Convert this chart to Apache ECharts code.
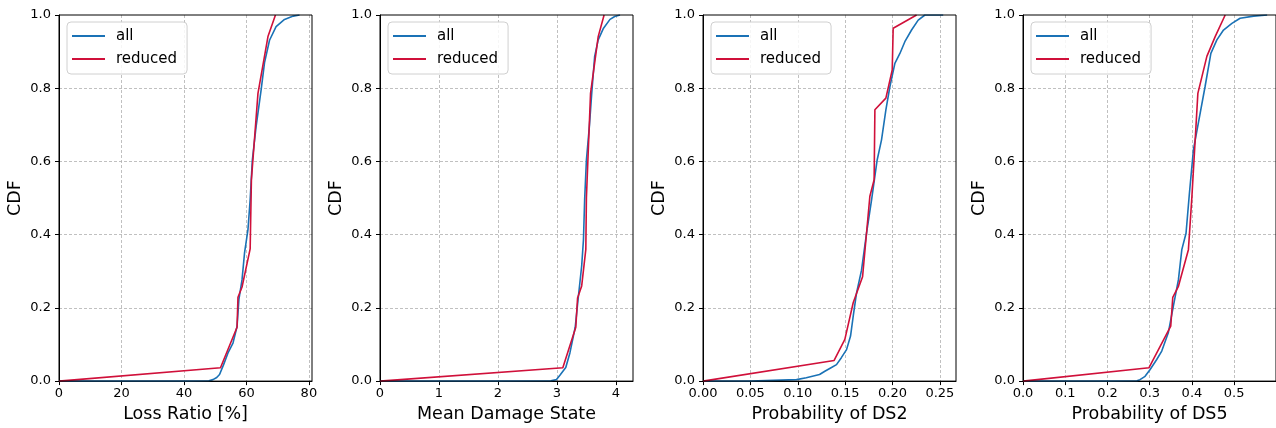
<!DOCTYPE html>
<html><head><meta charset="utf-8">
<script src="https://cdn.jsdelivr.net/npm/echarts@6/dist/echarts.min.js"></script>
<style>html,body{margin:0;padding:0;background:#fff}#c{width:1276px;height:428px}</style>
</head><body><div id="c"></div>
<script>
// Panel 1: Loss Ratio [%]
const lossAllX = [0, 20, 40, 48, 49.3, 50.5, 51.4, 52.7, 54.1, 55.7, 57.0, 57.6, 58.6, 59.4, 60.5, 61.2, 61.9, 63.1, 64.7, 65.8, 67.4, 69.5, 72.2, 75, 77.0];
const lossAllY = [0, 0, 0, 0.001, 0.004, 0.01, 0.018, 0.045, 0.077, 0.104, 0.149, 0.223, 0.277, 0.35, 0.414, 0.495, 0.604, 0.695, 0.795, 0.87, 0.931, 0.968, 0.988, 0.997, 1.0];
const lossRedX = [0, 51.7, 57.0, 57.3, 58.6, 61.2, 61.6, 63.7, 66.9, 69.3];
const lossRedY = [0, 0.0366, 0.147, 0.229, 0.257, 0.361, 0.55, 0.786, 0.941, 1.0];

// Panel 2: Mean Damage State
const mdsAllX = [0, 1, 2, 2.9, 2.99, 3.06, 3.15, 3.22, 3.31, 3.36, 3.42, 3.45, 3.47, 3.50, 3.55, 3.59, 3.64, 3.70, 3.79, 3.90, 3.98, 4.07];
const mdsAllY = [0, 0, 0, 0.001, 0.004, 0.018, 0.037, 0.077, 0.147, 0.225, 0.315, 0.386, 0.495, 0.604, 0.695, 0.786, 0.887, 0.932, 0.964, 0.988, 0.996, 1.0];
const mdsRedX = [0, 3.10, 3.32, 3.35, 3.42, 3.49, 3.50, 3.57, 3.70, 3.80];
const mdsRedY = [0, 0.0366, 0.147, 0.227, 0.26, 0.36, 0.5, 0.786, 0.941, 1.0];

// Panel 3: Probability of DS2
const ds2AllX = [0, 0.05, 0.0987, 0.109, 0.123, 0.1286, 0.1356, 0.1409, 0.146, 0.1515, 0.1557, 0.1585, 0.162, 0.1673, 0.1726, 0.1779, 0.1838, 0.1884, 0.193, 0.1972, 0.2025, 0.2078, 0.213, 0.2201, 0.2271, 0.2342, 0.2535];
const ds2AllY = [0, 0, 0.004, 0.009, 0.018, 0.027, 0.037, 0.045, 0.064, 0.086, 0.123, 0.177, 0.24, 0.303, 0.404, 0.495, 0.604, 0.659, 0.741, 0.804, 0.868, 0.895, 0.927, 0.959, 0.986, 1.0, 1.0];
const ds2RedX = [0, 0.1384, 0.1497, 0.1585, 0.1684, 0.1761, 0.1806, 0.1814, 0.193, 0.1997, 0.2007, 0.2254];
const ds2RedY = [0, 0.0564, 0.114, 0.214, 0.285, 0.505, 0.55, 0.741, 0.773, 0.85, 0.964, 1.0];

// Panel 4: Probability of DS5
const ds5AllX = [0, 0.1, 0.2, 0.27, 0.277, 0.289, 0.3006, 0.3166, 0.3285, 0.344, 0.356, 0.368, 0.376, 0.386, 0.394, 0.4035, 0.415, 0.431, 0.4448, 0.459, 0.4747, 0.4946, 0.514, 0.546, 0.578];
const ds5AllY = [0, 0, 0, 0.001, 0.004, 0.013, 0.031, 0.059, 0.082, 0.132, 0.205, 0.277, 0.359, 0.404, 0.513, 0.632, 0.704, 0.804, 0.895, 0.932, 0.959, 0.977, 0.991, 0.997, 1.0];
const ds5RedX = [0, 0.2984, 0.3498, 0.3546, 0.368, 0.3916, 0.3997, 0.414, 0.4353, 0.455, 0.4787];
const ds5RedY = [0, 0.0366, 0.15, 0.229, 0.259, 0.359, 0.5, 0.786, 0.887, 0.941, 1.0];

const xNames = ['Loss Ratio [%]', 'Mean Damage State', 'Probability of DS2', 'Probability of DS5'];
const xMax = [81, 4.29, 0.267, 0.599];
const xInterval = [20, 1, 0.05, 0.1];
const xDecimals = [0, 0, 2, 1];
const yTicks = [0, 0.2, 0.4, 0.6, 0.8, 1.0];
const seriesNames = ['all', 'reduced'];

const panels = [
  [lossAllX, lossAllY, lossRedX, lossRedY],
  [mdsAllX, mdsAllY, mdsRedX, mdsRedY],
  [ds2AllX, ds2AllY, ds2RedX, ds2RedY],
  [ds5AllX, ds5AllY, ds5RedX, ds5RedY]
];

const lefts = [59, 380, 703, 1023];
const W = 253, TOP = 15, H = 367;
const BLUE = '#1a72b6', RED = '#d0103a';
const FONT = 'DejaVu Sans';

const zip = (xs, ys) => xs.map((x, i) => [x, ys[i]]);

const grid = [], xAxis = [], yAxis = [], series = [], legend = [];
panels.forEach((p, i) => {
  grid.push({left: lefts[i], top: TOP, width: W, height: H, show: true, borderColor: '#000', borderWidth: 1, backgroundColor: 'transparent', z: 5});
  xAxis.push({
    type: 'value', gridIndex: i, min: 0, max: xMax[i], interval: xInterval[i],
    name: xNames[i], nameLocation: 'middle', nameGap: 23,
    nameTextStyle: {fontFamily: FONT, fontSize: 17.5, color: '#000'},
    axisLine: {show: true, onZero: false, lineStyle: {color: '#000', width: 1}},
    axisTick: {show: true, length: 4, lineStyle: {color: '#000'}},
    axisLabel: {showMaxLabel: false, margin: 6, fontFamily: FONT, fontSize: 13, color: '#000',
      formatter: v => v.toFixed(xDecimals[i])},
    splitLine: {show: true, showMinLine: false, showMaxLine: false, lineStyle: {color: '#b0b0b0', width: 0.8, type: [3, 2]}}
  });
  yAxis.push({
    type: 'value', gridIndex: i, min: 0, max: 1, interval: 0.2,
    name: 'CDF', nameLocation: 'middle', nameGap: 35,
    nameTextStyle: {fontFamily: FONT, fontSize: 17.5, color: '#000'},
    axisLine: {show: true, onZero: false, lineStyle: {color: '#000', width: 1}},
    axisTick: {show: true, length: 4, lineStyle: {color: '#000'}},
    axisLabel: {margin: 8, fontFamily: FONT, fontSize: 13, color: '#000', formatter: v => v.toFixed(1)},
    splitLine: {show: true, showMinLine: false, showMaxLine: false, lineStyle: {color: '#b0b0b0', width: 0.8, type: [3, 2]}}
  });
  series.push({name: seriesNames[0], type: 'line', xAxisIndex: i, yAxisIndex: i, data: zip(p[0], p[1]),
    symbol: 'none', lineStyle: {color: BLUE, width: 1.6}, itemStyle: {color: BLUE}, animation: false, z: 3});
  series.push({name: seriesNames[1], type: 'line', xAxisIndex: i, yAxisIndex: i, data: zip(p[2], p[3]),
    symbol: 'none', lineStyle: {color: RED, width: 1.6}, itemStyle: {color: RED}, animation: false, z: 4});
  legend.push({
    data: seriesNames, orient: 'vertical', left: lefts[i] + 8, top: 22,
    icon: 'rect', itemWidth: 33, itemHeight: 2, itemGap: 5,
    padding: [5, 10, 6, 5],
    borderColor: '#d0d0d0', borderWidth: 1, borderRadius: 4, backgroundColor: 'rgba(255,255,255,0.85)',
    textStyle: {fontFamily: FONT, fontSize: 15, color: '#000', padding: [0, 0, 0, 6], lineHeight: 18},
    selectedMode: false
  });
});

const chart = echarts.init(document.getElementById('c'), null, {renderer: 'canvas'});
chart.setOption({animation: false, backgroundColor: '#fff', grid, xAxis, yAxis, series, legend});
</script></body></html>
